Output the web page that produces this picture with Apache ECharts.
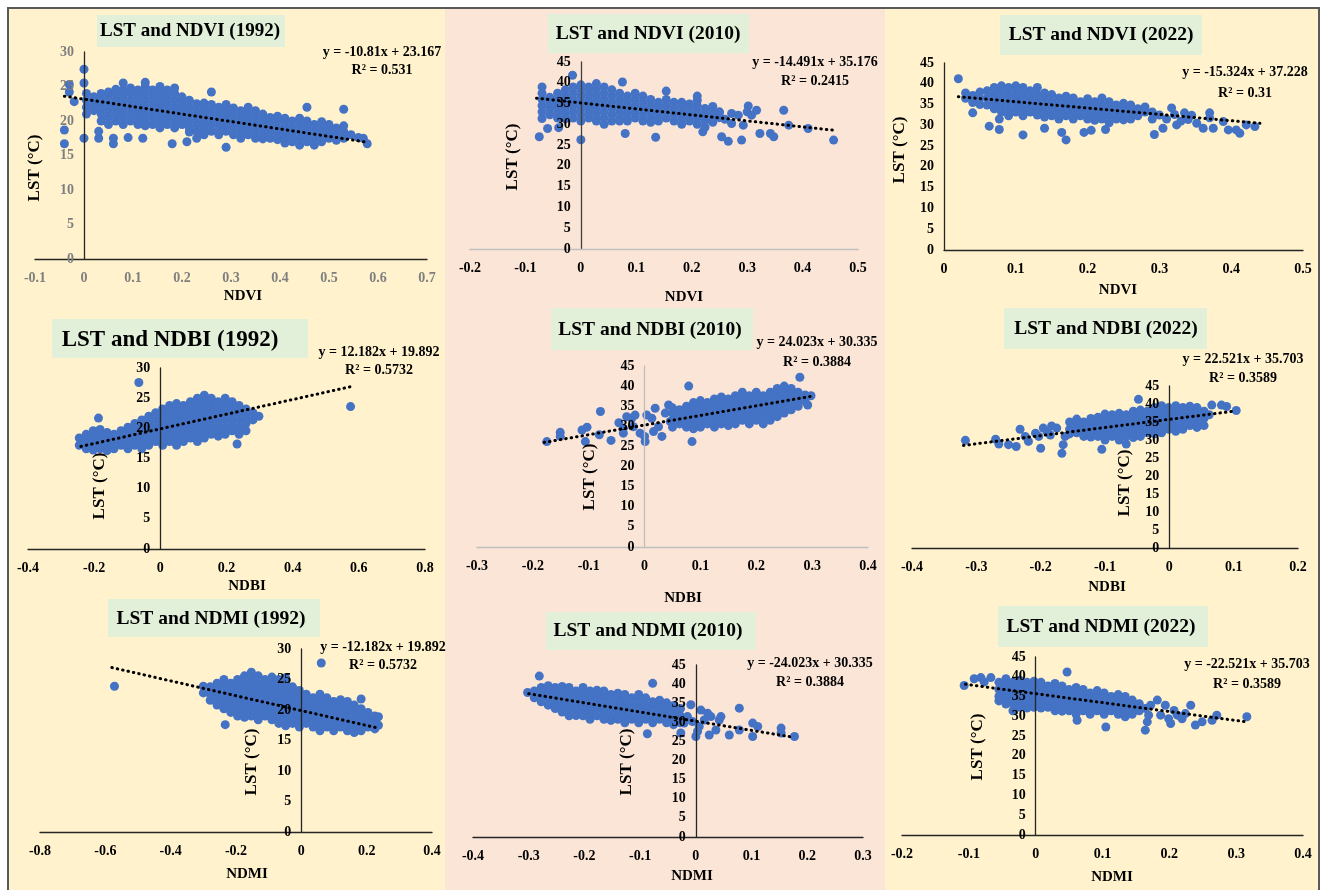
<!DOCTYPE html>
<html>
<head>
<meta charset="utf-8">
<title>LST vs NDVI / NDBI / NDMI</title>
<script src="https://cdn.jsdelivr.net/npm/echarts@6/dist/echarts.min.js"></script>
<style>
  html, body { margin: 0; padding: 0; background: #ffffff; }
  #main { width: 1321px; height: 890px; }
</style>
</head>
<body>
<div id="main"></div>
<script>
// each row: [x, y1, y2, ...]  -> points (x, y1), (x, y2) ...
const ndvi1992 = [
  [-0.04, 18.7, 16.7], [-0.03, 25.3, 24.2], [-0.02, 22.8], [0, 27.5, 25.5, 17.5],
  [0.005, 21, 22, 23, 24], [0.02, 21.5, 22.5, 23.5], [0.03, 17.5, 18.5],
  [0.035, 20, 21, 22, 23, 24], [0.05, 19.5, 20.5, 21.5, 22.5, 23.5, 24.2], [0.06, 17.5, 16.7],
  [0.065, 20, 21, 22, 23, 24, 24.6], [0.08, 19.5, 20.5, 21.5, 22.5, 23.5, 24.5, 25.5], [0.09, 17.6],
  [0.095, 20, 21, 22, 23, 24, 24.8], [0.11, 19.5, 20.5, 21.5, 22.5, 23.5, 24.5], [0.12, 17.5],
  [0.125, 19.3, 20, 21, 22, 23, 24, 25, 25.6], [0.14, 19.5, 20.5, 21.5, 22.5, 23.5, 24.5],
  [0.155, 19, 20, 21, 22, 23, 24, 25], [0.17, 19.5, 20.5, 21.5, 22.5, 23.5, 24.5], [0.18, 16.7],
  [0.185, 19, 20, 21, 22, 23, 24, 24.8], [0.2, 19.5, 20.5, 21.5, 22.5, 23.5], [0.21, 17.0],
  [0.215, 18.4, 19, 20, 21, 22, 23], [0.23, 17.5, 18.5, 19.5, 20.5, 21.5, 22.5],
  [0.245, 18, 19, 20, 21, 22, 22.6], [0.26, 18.5, 19.5, 20.5, 21.5, 22.4, 24.2],
  [0.275, 18, 19, 20, 21, 22], [0.29, 16.2, 18.5, 19.5, 20.5, 21.5, 22.4],
  [0.305, 18, 19, 20, 21, 21.9], [0.32, 17.5, 18.5, 19.5, 20.5, 21.5],
  [0.335, 18, 19, 20, 21, 22], [0.35, 17.5, 18.5, 19.5, 20.5, 21.5],
  [0.365, 17.4, 18, 19, 20, 21], [0.38, 17.5, 18.5, 19.5, 20.5],
  [0.395, 17.3, 18, 19, 20, 20.7], [0.41, 16.8, 17.5, 18.5, 19.5, 20.4],
  [0.425, 17, 18, 19, 20], [0.44, 16.5, 17.5, 18.5, 19.5, 20.4],
  [0.455, 17, 18, 19, 20, 22.0], [0.47, 16.5, 17.5, 18.5, 19.5],
  [0.485, 17, 18, 19, 19.9], [0.5, 17.5, 18.5, 19.5], [0.515, 17.2, 18, 19],
  [0.53, 17.5, 18.5, 19.3, 21.7], [0.545, 18], [0.56, 17.6], [0.57, 17.5], [0.578, 16.7]
];
const ndvi2010 = [
  [-0.075, 27.0], [-0.07, 31.4, 33, 34.5, 36, 37.5, 39], [-0.06, 29.0],
  [-0.056, 32.3, 33.8, 35.3, 36.5], [-0.042, 31.5, 33, 34.5, 36, 37.5], [-0.04, 29.2],
  [-0.028, 31.3, 32.3, 33.8, 35.3, 36.8, 38.3], [-0.015, 41.8], [-0.014, 31.5, 33, 34.5, 36, 37.5, 39],
  [0, 26.3, 30.8, 32.3, 33.8, 35.3, 36.8, 38.3, 39.5], [0.014, 31.5, 33, 34.5, 36, 37.5, 39],
  [0.028, 30.8, 32.3, 33.8, 35.3, 36.8, 38.3, 39.8], [0.042, 30, 31.5, 33, 34.5, 36, 37.5, 39],
  [0.056, 30.8, 32.3, 33.8, 35.3, 36.8, 38.3], [0.07, 30.8, 31.5, 33, 34.5, 36, 37.5],
  [0.075, 40.2], [0.08, 27.8], [0.084, 30.8, 32.3, 33.8, 35.3, 36.8],
  [0.098, 31.5, 33, 34.5, 36, 37.5], [0.112, 30.8, 32.3, 33.8, 35.3, 36.8],
  [0.126, 30.5, 31.5, 33, 34.5, 36], [0.135, 26.9], [0.14, 30.8, 32.3, 33.8, 35.3],
  [0.154, 31.5, 33, 34.5, 36, 38.0], [0.168, 30.8, 32.3, 33.8, 35.3],
  [0.182, 30, 31.5, 33, 34.5, 35.3], [0.196, 30.8, 32.3, 33.8, 34.9],
  [0.21, 30, 31.5, 33, 34.5, 35.8, 36.8], [0.22, 28.2], [0.224, 29.3, 30.8, 32.3, 33.8],
  [0.238, 30.5, 31.5, 33, 34.3], [0.25, 31.6, 33.0, 32.8],
  [0.254, 27.0], [0.26, 31.2], [0.266, 25.9], [0.272, 32.6, 30.2],
  [0.284, 32.2], [0.29, 26.2], [0.293, 29.8], [0.3, 33.0], [0.302, 34.4], [0.308, 32.2],
  [0.317, 33.4], [0.323, 27.8], [0.342, 27.8], [0.348, 27.0], [0.366, 33.4],
  [0.375, 29.8], [0.41, 29.0], [0.456, 26.2]
];
const ndvi2022 = [
  [0.02, 41.2], [0.03, 36.5, 37.8], [0.04, 33.0, 35.5, 37.2], [0.05, 35.0, 36.5, 38.0],
  [0.06, 34.9, 36.6, 38.3], [0.063, 29.8], [0.07, 34.0, 35.7, 37.4, 39.1],
  [0.077, 29.0, 31.5], [0.08, 33.2, 34.9, 36.6, 38.3, 39.5], [0.09, 32.3, 34.0, 35.7, 37.4, 39.1],
  [0.1, 33.2, 34.9, 36.6, 38.3, 39.5], [0.11, 27.7, 32.3, 34.0, 35.7, 37.4, 39.1],
  [0.12, 33.2, 34.9, 36.6, 38.3], [0.13, 32.5, 34.0, 35.7, 37.4, 39.1],
  [0.14, 29.3, 32.0, 33.2, 34.9, 36.6, 37.8], [0.15, 32.3, 34.0, 35.7, 37.4],
  [0.16, 31.5, 33.2, 34.9, 36.6], [0.164, 28.3], [0.17, 26.5, 32.3, 34.0, 35.7, 37.0],
  [0.18, 31.5, 33.2, 34.9, 36.6], [0.19, 32.3, 34.0, 35.7], [0.195, 28.3],
  [0.2, 31.5, 33.2, 34.9, 36.4], [0.205, 28.8], [0.21, 31.2, 32.3, 34.0, 35.7],
  [0.22, 31.5, 33.2, 34.9, 36.6], [0.225, 29.0], [0.23, 30.6, 32.3, 34.0, 35.7],
  [0.24, 31.5, 33.2, 34.9], [0.25, 31.3, 32.3, 34.0, 35.3], [0.26, 31.5, 33.2, 34.9],
  [0.27, 32.3, 34.0], [0.28, 33.2, 34.4], [0.29, 31.5, 33.2], [0.293, 27.8],
  [0.3, 32.5], [0.305, 29.3], [0.31, 31.5], [0.317, 34.2], [0.321, 32.6], [0.324, 30.1],
  [0.33, 31.0], [0.335, 33.0], [0.34, 31.4], [0.345, 32.4], [0.352, 30.5], [0.361, 29.3],
  [0.37, 31.8, 33.0], [0.375, 29.3], [0.389, 30.9], [0.396, 28.9], [0.407, 28.9],
  [0.412, 28.1], [0.421, 30.1], [0.433, 29.7]
];
const ndbi1992 = [
  [-0.245, 17.2, 18.4], [-0.224, 16.6, 17.8, 19.0], [-0.203, 16.4, 17.2, 18.4, 19.6],
  [-0.187, 21.7], [-0.182, 16.6, 17.8, 19.0, 19.8], [-0.161, 16.3, 17.2, 18.4, 19.3],
  [-0.14, 16.6, 17.8, 19.0], [-0.119, 17.2, 18.4, 19.6], [-0.098, 16.6, 17.8, 19.0, 20.2],
  [-0.077, 17.2, 18.4, 19.6, 20.8], [-0.065, 27.6], [-0.056, 16.6, 17.8, 19.0, 20.2, 21.4],
  [-0.035, 17.2, 18.4, 19.6, 20.8, 22.0], [-0.014, 17.8, 19.0, 20.2, 21.4, 22.6],
  [0.007, 17.2, 18.4, 19.6, 20.8, 22.0, 23.2], [0.028, 17.8, 19.0, 20.2, 21.4, 22.6, 23.8],
  [0.049, 17.2, 18.4, 19.6, 20.8, 22.0, 23.2, 24.1], [0.07, 17.8, 19.0, 20.2, 21.4, 22.6, 23.8],
  [0.091, 18.4, 19.6, 20.8, 22.0, 23.2, 24.4], [0.112, 17.8, 19.0, 20.2, 21.4, 22.6, 23.8, 25.0],
  [0.133, 18.4, 19.6, 20.8, 22.0, 23.2, 24.4, 25.5], [0.154, 19.0, 20.2, 21.4, 22.6, 23.8, 25.0],
  [0.175, 18.7, 19.6, 20.8, 22.0, 23.2, 24.4], [0.196, 19.0, 20.2, 21.4, 22.6, 23.8, 25.0],
  [0.217, 19.6, 20.8, 22.0, 23.2, 24.4], [0.232, 17.4], [0.238, 19.0, 20.2, 21.4, 22.6, 23.8],
  [0.259, 19.6, 20.8, 22.0, 23.2], [0.28, 21.4, 22.6], [0.298, 22.0], [0.575, 23.6]
];
const ndbi2010 = [
  [-0.175, 26.2], [-0.151, 28.5, 27.5], [-0.112, 29.1], [-0.106, 26.2], [-0.103, 29.8],
  [-0.081, 27.9], [-0.079, 33.7], [-0.06, 26.5], [-0.046, 30.9], [-0.038, 28.3, 29.5],
  [-0.032, 32.4], [-0.023, 32.0], [-0.02, 29.9], [-0.017, 32.8], [-0.008, 28.3],
  [0, 27.5], [0.001, 26.2], [0.004, 32.8], [0.013, 32.0], [0.016, 28.7], [0.019, 34.5],
  [0.025, 29.9], [0.031, 27.5], [0.037, 33.3], [0.043, 35.3], [0.046, 31.2],
  [0.05, 29.8, 31.5, 33.3, 34.6], [0.0625, 30.6, 32.4, 34.1], [0.075, 29.8, 31.5, 33.3, 35.0],
  [0.079, 40.0], [0.085, 26.2], [0.0875, 29.4, 30.6, 32.4, 34.1, 35.9],
  [0.1, 29.8, 31.5, 33.3, 35.0, 36.4], [0.1125, 30.6, 32.4, 34.1, 35.9],
  [0.125, 29.8, 31.5, 33.3, 35.0, 36.8], [0.1375, 30.6, 32.4, 34.1, 35.9, 37.3],
  [0.15, 30.2, 31.5, 33.3, 35.0, 36.8], [0.1625, 30.6, 32.4, 34.1, 35.9, 37.6],
  [0.175, 31.5, 33.3, 35.0, 36.8, 38.5], [0.1875, 30.6, 32.4, 34.1, 35.9, 37.6],
  [0.2, 31.5, 33.3, 35.0, 36.8, 38.5], [0.2125, 30.6, 32.4, 34.1, 35.9, 37.6],
  [0.225, 31.5, 33.3, 35.0, 36.8, 38.5], [0.2375, 32.4, 34.1, 35.9, 37.6, 39.4],
  [0.25, 33.3, 35.0, 36.8, 38.5, 40.0], [0.2625, 34.1, 35.9, 37.6, 39.4],
  [0.275, 35.0, 36.8, 38.5], [0.278, 42.2], [0.2875, 36.2, 37.8], [0.292, 35.3], [0.298, 37.6]
];
const ndbi2022 = [
  [-0.317, 29.9], [-0.27, 30.2], [-0.265, 28.9], [-0.25, 28.7], [-0.238, 28.2], [-0.232, 33.0],
  [-0.224, 31.0], [-0.219, 29.6], [-0.208, 31.9], [-0.203, 31.0], [-0.2, 27.7], [-0.196, 33.3],
  [-0.19, 32.3], [-0.185, 31.4], [-0.183, 33.9], [-0.175, 33.3], [-0.167, 26.3], [-0.165, 28.7],
  [-0.162, 31.0],
  [-0.155, 31.7, 33, 35], [-0.144, 32, 34, 35.8], [-0.133, 31, 33, 35], [-0.122, 30.8, 32, 34, 36],
  [-0.111, 31, 33, 35, 36.3], [-0.105, 27.4], [-0.1, 30, 32, 34, 36, 37.2],
  [-0.089, 31, 33, 35, 37], [-0.078, 30, 32, 34, 36, 37.4], [-0.067, 28.9, 31, 33, 35, 37],
  [-0.056, 30.7, 32, 34, 36, 38], [-0.048, 41.3], [-0.045, 31, 33, 35, 37, 38.3],
  [-0.034, 32, 34, 36, 38], [-0.023, 31.7, 33, 35, 37, 39], [-0.012, 32, 34, 36, 38, 39.5],
  [-0.001, 33, 35, 37, 39], [0.01, 32.4, 34, 36, 38, 39.5], [0.021, 33, 35, 37, 39],
  [0.032, 34, 36, 38, 39.4], [0.043, 33.5, 35, 37, 39], [0.054, 34, 36, 38], [0.062, 37],
  [0.066, 39.7], [0.081, 39.7], [0.089, 39.3], [0.104, 38.2]
];
const ndmi1992 = [
  [-0.572, 23.9],
  [-0.3, 22.8, 23.9], [-0.279, 21.6, 22.6, 23.8], [-0.258, 20.8, 22.0, 23.2, 24.4],
  [-0.237, 20.2, 21.4, 22.6, 23.8, 25.0], [-0.233, 17.6], [-0.216, 19.6, 20.8, 22.0, 23.2, 24.4],
  [-0.195, 19.0, 20.2, 21.4, 22.6, 23.8, 25.0], [-0.174, 18.8, 19.6, 20.8, 22.0, 23.2, 24.4, 25.6],
  [-0.153, 19.0, 20.2, 21.4, 22.6, 23.8, 25.0, 26.2], [-0.132, 18.4, 19.6, 20.8, 22.0, 23.2, 24.4, 25.6],
  [-0.111, 19.0, 20.2, 21.4, 22.6, 23.8, 25.0], [-0.09, 18.4, 19.6, 20.8, 22.0, 23.2, 24.4, 25.4],
  [-0.069, 17.8, 19.0, 20.2, 21.4, 22.6, 23.8, 25.0], [-0.048, 17.4, 18.4, 19.6, 20.8, 22.0, 23.2, 24.4, 25.3],
  [-0.027, 17.8, 19.0, 20.2, 21.4, 22.6, 23.8], [-0.006, 17.2, 18.4, 19.6, 20.8, 22.0, 23.2],
  [0.015, 17.8, 19.0, 20.2, 21.4, 22.6], [0.036, 17.2, 18.4, 19.6, 20.8, 22.0],
  [0.057, 16.6, 17.8, 19.0, 20.2, 21.4, 22.6], [0.061, 27.7], [0.078, 17.2, 18.4, 19.6, 20.8, 22.0],
  [0.099, 16.6, 17.8, 19.0, 20.2, 21.4], [0.12, 17.2, 18.4, 19.6, 20.8, 21.7],
  [0.141, 16.6, 17.8, 19.0, 20.2, 21.4], [0.162, 16.3, 17.2, 18.4, 19.6, 20.8],
  [0.183, 16.6, 17.8, 19.0, 20.2, 21.8], [0.204, 17.2, 18.4, 19.6], [0.225, 16.9, 17.8, 19.0],
  [0.236, 17.5, 18.9]
];
const ndmi2010 = [
  [-0.302, 37.8], [-0.29, 36.4, 38.2], [-0.281, 42.1], [-0.2775, 35.4, 37.3, 39.1],
  [-0.265, 34.5, 36.4, 38.2, 39.6], [-0.2525, 33.6, 35.4, 37.3, 39.1],
  [-0.24, 32.7, 34.5, 36.4, 38.2, 39.4], [-0.2275, 31.7, 33.6, 35.4, 37.3, 39.1],
  [-0.215, 31.8, 32.7, 34.5, 36.4, 38.2], [-0.2025, 31.7, 33.6, 35.4, 37.3, 39.1],
  [-0.19, 30.8, 32.7, 34.5, 36.4, 38.2], [-0.1775, 31.7, 33.6, 35.4, 37.3, 38.4],
  [-0.165, 30.8, 32.7, 34.5, 36.4, 38.2], [-0.1525, 30.5, 31.7, 33.6, 35.4, 37.3],
  [-0.14, 30.8, 32.7, 34.5, 36.4, 37.6], [-0.1275, 29.9, 31.7, 33.6, 35.4, 37.3],
  [-0.115, 30.8, 32.7, 34.5, 36.4], [-0.1025, 29.9, 31.7, 33.6, 35.4, 37.3],
  [-0.09, 30.8, 32.7, 34.5, 36.4], [-0.087, 27.0], [-0.0775, 29.9, 31.7, 33.6, 35.4, 40.2],
  [-0.065, 30.8, 32.7, 34.5, 35.8], [-0.0525, 29.9, 31.7, 33.6, 35.1],
  [-0.04, 29.4, 30.8, 32.7, 34.4], [-0.0275, 29.9, 31.7, 33.6], [-0.027, 27.2],
  [-0.021, 29.8], [-0.015, 31.5], [-0.009, 34.6], [-0.006, 30.2], [0, 26.3], [0.003, 27.6],
  [0.006, 28.9], [0.009, 33.2], [0.015, 30.6], [0.021, 32.4], [0.024, 26.7], [0.027, 31.5],
  [0.036, 28.0], [0.042, 30.6], [0.045, 31.5], [0.06, 26.7], [0.078, 33.7, 28.0],
  [0.102, 29.8, 26.3], [0.111, 28.9], [0.153, 28.5, 27.2], [0.177, 26.3]
];
const ndmi2022 = [
  [-0.107, 37.8], [-0.092, 39.5], [-0.082, 39.8], [-0.077, 38.7], [-0.067, 39.8],
  [-0.055, 33.9, 35.0, 36.8, 38.6], [-0.0445, 33.1, 34.1, 35.9, 37.7, 39.5],
  [-0.034, 31.4, 33.2, 35.0, 36.8, 38.6], [-0.0235, 32.3, 34.1, 35.9, 37.7, 39.1],
  [-0.013, 32.1, 33.2, 35.0, 36.8, 38.6], [-0.0025, 32.3, 34.1, 35.9, 37.7, 38.9],
  [0.008, 32.1, 33.2, 35.0, 36.8, 38.6], [0.0185, 32.3, 34.1, 35.9, 37.7],
  [0.029, 31.4, 33.2, 35.0, 36.8, 38.3], [0.0395, 31.3, 32.3, 34.1, 35.9, 37.7],
  [0.047, 41.2], [0.05, 31.4, 33.2, 35.0, 36.8], [0.0605, 30.5, 32.3, 34.1, 35.9, 37.3],
  [0.062, 29.0], [0.071, 31.4, 33.2, 35.0, 36.8], [0.0815, 30.5, 32.3, 34.1, 35.9],
  [0.092, 31.4, 33.2, 35.0, 36.5], [0.1025, 30.5, 32.3, 34.1, 35.9], [0.105, 27.3],
  [0.113, 31.4, 33.2, 35.0], [0.1235, 30.5, 32.3, 34.1, 35.5], [0.134, 29.9, 31.4, 33.2, 35.0],
  [0.1445, 30.5, 32.3, 34.1], [0.155, 31.4, 33.2],
  [0.164, 32.0, 26.5], [0.167, 28.6], [0.169, 30.3], [0.172, 32.8], [0.182, 34.1],
  [0.187, 30.3], [0.194, 32.8], [0.199, 29.4], [0.202, 28.2], [0.207, 31.5], [0.212, 30.3],
  [0.219, 29.4], [0.224, 30.7], [0.232, 32.8], [0.239, 27.8], [0.249, 28.6], [0.264, 29.0],
  [0.271, 30.3], [0.316, 29.9]
];

// dotted linear trend lines: end points
const trendNdvi1992 = [[-0.04, 23.6], [0.58, 16.9]];
const trendNdvi2010 = [[-0.08, 36.3], [0.455, 28.6]];
const trendNdvi2022 = [[0.02, 36.9], [0.44, 30.5]];
const trendNdbi1992 = [[-0.24, 17.0], [0.58, 26.96]];
const trendNdbi2010 = [[-0.18, 26.0], [0.3, 37.5]];
const trendNdbi2022 = [[-0.32, 28.5], [0.1, 38.0]];
const trendNdmi1992 = [[-0.58, 26.96], [0.23, 17.1]];
const trendNdmi2010 = [[-0.3, 37.5], [0.175, 26.1]];
const trendNdmi2022 = [[-0.105, 38.1], [0.315, 28.6]];

const FONT = "'Liberation Serif', 'Times New Roman', serif";
const DARK = '#262626';
const LIGHT = '#bfbfbf';

// layout of each panel (pixels)
const panels = [
  { data: ndvi1992, trend: trendNdvi1992, grid: [35, 52, 392, 207], x: [-0.1, 0.7, 0.1], yMax: 30,
    labelColor: '#7f7f7f', xLine: DARK, yLine: DARK,
    title: 'LST and NDVI (1992)', box: [97, 15, 188, 32], tPos: [190, 31], tSize: 19,
    eq: ['y = -10.81x + 23.167', 'R² = 0.531'], eqPos: [382, 52, 70],
    xName: 'NDVI', xNamePos: [243, 296], yNamePos: [35, 168] },
  { data: ndvi2010, trend: trendNdvi2010, grid: [470, 62, 388, 187], x: [-0.2, 0.5, 0.1], yMax: 45,
    labelColor: '#000', xLine: LIGHT, yLine: '#404040',
    title: 'LST and NDVI (2010)', box: [548, 14, 201, 39], tPos: [648, 34], tSize: 19.5,
    eq: ['y = -14.491x + 35.176', 'R² = 0.2415'], eqPos: [815, 62, 81],
    xName: 'NDVI', xNamePos: [684, 297], yNamePos: [513, 157] },
  { data: ndvi2022, trend: trendNdvi2022, grid: [944, 63, 359, 187], x: [0, 0.5, 0.1], yMax: 45,
    labelColor: '#000', xLine: DARK, yLine: DARK,
    title: 'LST and NDVI (2022)', box: [1000, 15, 202, 40], tPos: [1101, 35], tSize: 19.5,
    eq: ['y = -15.324x + 37.228', 'R² = 0.31'], eqPos: [1245, 72, 93],
    xName: 'NDVI', xNamePos: [1118, 290], yNamePos: [900, 150] },
  { data: ndbi1992, trend: trendNdbi1992, grid: [28, 368, 397, 181], x: [-0.4, 0.8, 0.2], yMax: 30,
    labelColor: '#000', xLine: DARK, yLine: DARK,
    title: 'LST and NDBI (1992)', box: [52, 319, 256, 39], tPos: [170, 340], tSize: 23,
    eq: ['y = 12.182x + 19.892', 'R² = 0.5732'], eqPos: [379, 352, 370],
    xName: 'NDBI', xNamePos: [247, 586], yNamePos: [100, 486] },
  { data: ndbi2010, trend: trendNdbi2010, grid: [477, 366, 391, 181], x: [-0.3, 0.4, 0.1], yMax: 45,
    labelColor: '#000', xLine: LIGHT, yLine: LIGHT,
    title: 'LST and NDBI (2010)', box: [551, 308, 202, 42], tPos: [650, 330], tSize: 19.5,
    eq: ['y = 24.023x + 30.335', 'R² = 0.3884'], eqPos: [817, 342, 362],
    xName: 'NDBI', xNamePos: [683, 598], yNamePos: [590, 477] },
  { data: ndbi2022, trend: trendNdbi2022, grid: [912, 386, 386, 162], x: [-0.4, 0.2, 0.1], yMax: 45,
    labelColor: '#000', xLine: DARK, yLine: DARK,
    title: 'LST and NDBI (2022)', box: [1004, 308, 203, 41], tPos: [1106, 329], tSize: 19.5,
    eq: ['y = 22.521x + 35.703', 'R² = 0.3589'], eqPos: [1243, 359, 378],
    xName: 'NDBI', xNamePos: [1107, 587], yNamePos: [1125, 483] },
  { data: ndmi1992, trend: trendNdmi1992, grid: [40, 649, 392, 183], x: [-0.8, 0.4, 0.2], yMax: 30,
    labelColor: '#000', xLine: DARK, yLine: DARK,
    title: 'LST and NDMI (1992)', box: [108, 599, 212, 38], tPos: [211, 619], tSize: 19.5,
    eq: ['y = -12.182x + 19.892', 'R² = 0.5732'], eqPos: [383, 647, 665],
    xName: 'NDMI', xNamePos: [247, 874], yNamePos: [252, 762] },
  { data: ndmi2010, trend: trendNdmi2010, grid: [473, 665, 390, 172], x: [-0.4, 0.3, 0.1], yMax: 45,
    labelColor: '#000', xLine: DARK, yLine: DARK,
    title: 'LST and NDMI (2010)', box: [546, 612, 210, 38], tPos: [648, 631], tSize: 19.5,
    eq: ['y = -24.023x + 30.335', 'R² = 0.3884'], eqPos: [810, 663, 682],
    xName: 'NDMI', xNamePos: [692, 876], yNamePos: [627, 762] },
  { data: ndmi2022, trend: trendNdmi2022, grid: [902, 657, 401, 178], x: [-0.2, 0.4, 0.1], yMax: 45,
    labelColor: '#000', xLine: DARK, yLine: DARK,
    title: 'LST and NDMI (2022)', box: [998, 606, 210, 41], tPos: [1101, 627], tSize: 19.5,
    eq: ['y = -22.521x + 35.703', 'R² = 0.3589'], eqPos: [1247, 664, 684],
    xName: 'NDMI', xNamePos: [1112, 877], yNamePos: [978, 747] }
];

function toPoints(cols) {
  const out = [];
  cols.forEach(c => {
    for (let i = 1; i < c.length; i++) out.push([c[0], c[i]]);
  });
  return out;
}

function txt(text, x, y, size, extra) {
  return Object.assign({
    type: 'text', x: x, y: y, z: 20,
    style: { text: text, font: 'bold ' + size + 'px ' + FONT, fill: '#000', align: 'center', verticalAlign: 'middle' }
  }, extra || {});
}

const graphic = [
  { type: 'rect', z: -20, shape: { x: 8, y: 8, width: 437, height: 882 }, style: { fill: '#fff2cc' } },
  { type: 'rect', z: -20, shape: { x: 445, y: 8, width: 440, height: 882 }, style: { fill: '#fbe5d6' } },
  { type: 'rect', z: -20, shape: { x: 885, y: 8, width: 434, height: 882 }, style: { fill: '#fff2cc' } },
  { type: 'polyline', z: -19, shape: { points: [[8, 890], [8, 8], [1319, 8], [1319, 890]] },
    style: { stroke: '#595959', lineWidth: 2, fill: null } }
];

const grids = [], xAxes = [], yAxes = [], series = [];

panels.forEach((p, i) => {
  grids.push({ left: p.grid[0], top: p.grid[1], width: p.grid[2], height: p.grid[3] });
  // y axis sits where x = 0
  const zeroShift = (0 - p.x[0]) / (p.x[1] - p.x[0]) * p.grid[2];
  xAxes.push({
    type: 'value', gridIndex: i, min: p.x[0], max: p.x[1], interval: p.x[2], z: 3,
    axisLine: { onZero: false, lineStyle: { color: p.xLine, width: 1.3 } },
    axisTick: { show: false }, splitLine: { show: false },
    axisLabel: { color: p.labelColor, fontFamily: FONT, fontWeight: 'bold', fontSize: 14, margin: 12 }
  });
  yAxes.push({
    type: 'value', gridIndex: i, min: 0, max: p.yMax, interval: 5, offset: -zeroShift, z: 3,
    axisLine: { show: true, onZero: false, lineStyle: { color: p.yLine, width: 1.3 } },
    axisTick: { show: false }, splitLine: { show: false },
    axisLabel: { color: p.labelColor, fontFamily: FONT, fontWeight: 'bold', fontSize: 14, margin: 10 }
  });
  series.push({
    type: 'scatter', xAxisIndex: i, yAxisIndex: i, data: toPoints(p.data),
    symbolSize: 9, itemStyle: { color: '#4472c4', opacity: 1 }, silent: true
  });
  series.push({
    type: 'line', xAxisIndex: i, yAxisIndex: i, data: p.trend, symbol: 'none', z: 5, silent: true,
    lineStyle: { color: '#000', width: 3, type: [0.5, 5], cap: 'round' }
  });

  graphic.push({ type: 'rect', z: -5, shape: { x: p.box[0], y: p.box[1], width: p.box[2], height: p.box[3] },
    style: { fill: '#e2efd9' } });
  graphic.push(txt(p.title, p.tPos[0], p.tPos[1], p.tSize));
  graphic.push(txt(p.eq[0], p.eqPos[0], p.eqPos[1], 14));
  graphic.push(txt(p.eq[1], p.eqPos[0], p.eqPos[2], 14));
  graphic.push(txt(p.xName, p.xNamePos[0], p.xNamePos[1], 15));
  graphic.push(txt('LST (°C)', p.yNamePos[0], p.yNamePos[1], 17, { rotation: Math.PI / 2 }));
});

const chart = echarts.init(document.getElementById('main'), null, { renderer: 'canvas' });
chart.setOption({
  animation: false,
  backgroundColor: '#ffffff',
  grid: grids,
  xAxis: xAxes,
  yAxis: yAxes,
  series: series,
  graphic: graphic
});
</script>
</body>
</html>
